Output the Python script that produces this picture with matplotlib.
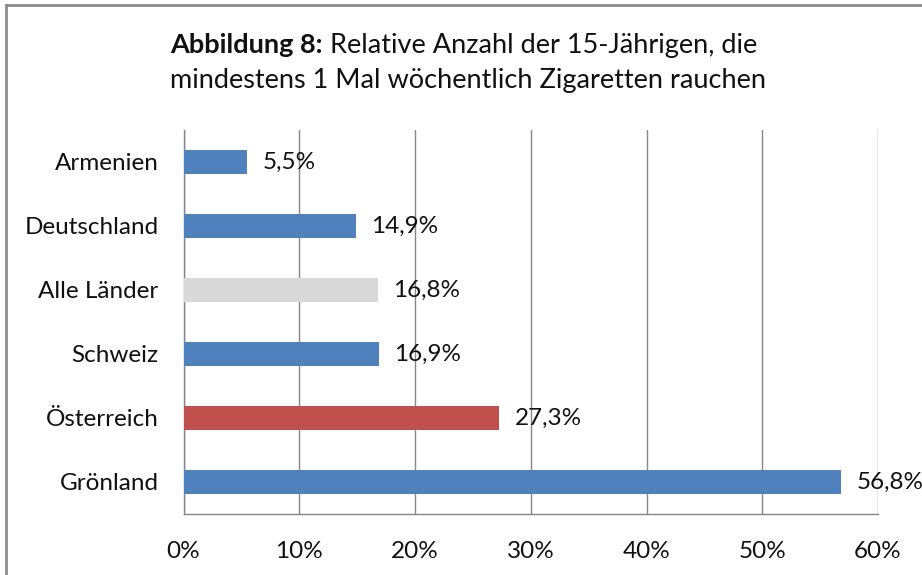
import matplotlib
matplotlib.use("Agg")
import matplotlib.pyplot as plt
from matplotlib.lines import Line2D
from matplotlib.ticker import FuncFormatter

categories = ["Armenien", "Deutschland", "Alle Länder", "Schweiz", "Österreich", "Grönland"]
values = [5.5, 14.9, 16.8, 16.9, 27.3, 56.8]
value_labels = ["5,5%", "14,9%", "16,8%", "16,9%", "27,3%", "56,8%"]
x_ticks = [0, 10, 20, 30, 40, 50, 60]

BLUE = "#4F81BD"
GREY = "#D9D9D9"
RED = "#C0504D"
bar_colors = [BLUE, BLUE, GREY, BLUE, RED, BLUE]

plt.rcParams['font.family'] = ['Lato', 'DejaVu Sans']
W, H = 922, 575
fig = plt.figure(figsize=(W / 100, H / 100), dpi=100)
fig.patch.set_facecolor("white")

left, right, top, bottom = 183.5, 878, 130, 514
ax = fig.add_axes([left / W, 1 - bottom / H, (right - left) / W, (bottom - top) / H])

ypos = list(range(len(categories)))
ax.barh(ypos, values, height=0.39, color=bar_colors, zorder=3)
ax.set_ylim(len(categories) - 0.5, -0.5)
ax.set_xlim(0, 60)
ax.set_yticks(ypos)
ax.set_yticklabels(categories)
ax.set_xticks(x_ticks)
ax.xaxis.set_major_formatter(FuncFormatter(lambda v, p: f"{int(v)}%"))

grid_c = "#868686"
ax.grid(axis="x", color=grid_c, linewidth=1.0, zorder=0)
ax.set_axisbelow(True)
for s in ["top", "right"]:
    ax.spines[s].set_visible(False)
for s in ["left", "bottom"]:
    ax.spines[s].set_color(grid_c)
    ax.spines[s].set_linewidth(1.0)
TICK_FS = 17.5
ax.tick_params(axis="both", length=0, labelsize=TICK_FS)
ax.tick_params(axis="y", pad=18)
ax.tick_params(axis="x", pad=19.5)
for lbl in ax.get_xticklabels() + ax.get_yticklabels():
    lbl.set_color("#111111")

for y, v, t in zip(ypos, values, value_labels):
    ax.annotate(t, xy=(v, y), xytext=(11, 0), textcoords="offset points",
                va="center", ha="left", fontsize=TICK_FS, color="#111111", zorder=4,
                annotation_clip=False)

# Title (bold lead-in + regular text)
TITLE_FS = 19.5
tx, ty1, ty2 = 170, 53, 88
t1 = fig.text(tx / W, 1 - ty1 / H, "Abbildung 8:", fontsize=TITLE_FS, fontweight="bold",
              va="baseline", ha="left", color="#111111")
fig.canvas.draw()
r = fig.canvas.get_renderer()
w1 = t1.get_window_extent(r).width
fig.text((tx + w1 + 7) / W, 1 - ty1 / H, "Relative Anzahl der 15-Jährigen, die",
         fontsize=TITLE_FS, va="baseline", ha="left", color="#111111")
fig.text(tx / W, 1 - ty2 / H, "mindestens 1 Mal wöchentlich Zigaretten rauchen",
         fontsize=TITLE_FS, va="baseline", ha="left", color="#111111")

# Outer chart border (cropped: only top and left visible)
bc = "#8c8c8c"
fig.add_artist(Line2D([5.5 / W, 5.5 / W], [0, 1 - 4.5 / H], transform=fig.transFigure,
                      color=bc, linewidth=2.0))
fig.add_artist(Line2D([5.5 / W, 1], [1 - 4.5 / H, 1 - 4.5 / H], transform=fig.transFigure,
                      color=bc, linewidth=2.0))

fig.savefig("out.png", dpi=100, facecolor="white")
